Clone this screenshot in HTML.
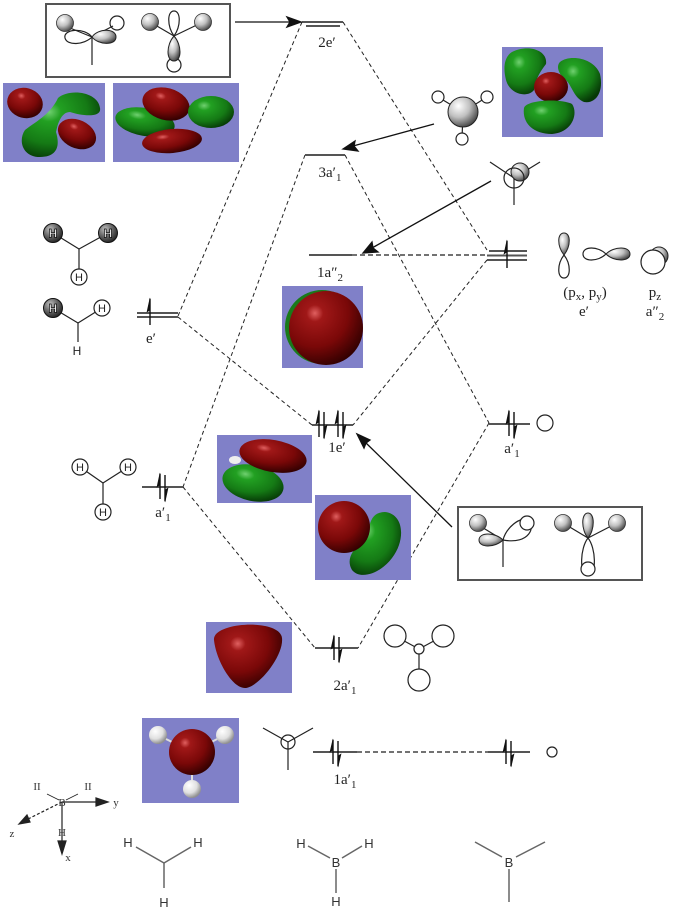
<!DOCTYPE html>
<html><head><meta charset="utf-8"><style>
html,body{margin:0;padding:0;background:#fff;}
svg{display:block;}
.lv{stroke:#555;stroke-width:2;fill:none;}
.ds{stroke:#222;stroke-width:1;stroke-dasharray:4,3;fill:none;}
.ln{stroke:#222;stroke-width:1.2;fill:none;}
.op{stroke:#222;stroke-width:1.2;fill:#fff;}
.lb{font-family:"Liberation Serif",serif;font-size:15px;fill:#222;text-anchor:middle;}
.hs{font-family:"Liberation Sans",sans-serif;font-size:13px;fill:#333;text-anchor:middle;}
.hi{font-family:"Liberation Sans",sans-serif;font-size:11px;fill:#222;text-anchor:middle;}
.hw{font-family:"Liberation Sans",sans-serif;font-size:12px;font-weight:bold;fill:#fff;stroke:#000;stroke-width:0.7;text-anchor:middle;}
.gl{stroke:#666;stroke-width:1.5;fill:none;}
</style></head><body>
<svg width="676" height="923" viewBox="0 0 676 923" xmlns="http://www.w3.org/2000/svg">
<defs>
<radialGradient id="rg" cx="35%" cy="30%" r="75%"><stop offset="0" stop-color="#e06060"/><stop offset="0.15" stop-color="#a01818"/><stop offset="0.6" stop-color="#7a0808"/><stop offset="1" stop-color="#300000"/></radialGradient>
<radialGradient id="gg" cx="35%" cy="30%" r="75%"><stop offset="0" stop-color="#70d070"/><stop offset="0.2" stop-color="#22a022"/><stop offset="0.65" stop-color="#157a15"/><stop offset="1" stop-color="#063806"/></radialGradient>
<radialGradient id="sg" cx="35%" cy="30%" r="75%"><stop offset="0" stop-color="#ffffff"/><stop offset="0.5" stop-color="#c0c0c0"/><stop offset="1" stop-color="#404040"/></radialGradient>
<radialGradient id="dg" cx="35%" cy="30%" r="75%"><stop offset="0" stop-color="#c0c0c0"/><stop offset="0.45" stop-color="#707070"/><stop offset="1" stop-color="#202020"/></radialGradient>
<radialGradient id="wg" cx="35%" cy="30%" r="70%"><stop offset="0" stop-color="#ffffff"/><stop offset="0.6" stop-color="#e0e0e0"/><stop offset="1" stop-color="#909090"/></radialGradient>
</defs>

<!-- ===== dashed correlation lines ===== -->
<line class="ds" x1="302" y1="22" x2="178" y2="316"/>
<line class="ds" x1="343" y1="22" x2="487" y2="250"/>
<line class="ds" x1="305" y1="155" x2="183" y2="487"/>
<line class="ds" x1="345" y1="155" x2="489" y2="423"/>
<line class="ds" x1="178" y1="317" x2="312" y2="425"/>
<line class="ds" x1="487" y1="260" x2="353" y2="425"/>
<line class="ds" x1="183" y1="487" x2="315" y2="648"/>
<line class="ds" x1="489" y1="423" x2="358" y2="648"/>
<line x1="352" y1="255" x2="487" y2="255" stroke="#444" stroke-width="1.5" stroke-dasharray="5,3"/>
<line x1="357" y1="752" x2="488" y2="752" stroke="#444" stroke-width="1.5" stroke-dasharray="5,3"/>

<!-- ===== energy levels ===== -->
<line class="lv" x1="302" y1="22" x2="343" y2="22"/>
<line class="lv" x1="306" y1="26" x2="340" y2="26"/>
<line class="lv" x1="305" y1="155" x2="345" y2="155"/>
<line class="lv" x1="309" y1="255" x2="352" y2="255"/>
<line class="lv" x1="489" y1="251" x2="527" y2="251"/>
<line class="lv" x1="487" y1="255.5" x2="527" y2="255.5"/>
<line class="lv" x1="487" y1="260" x2="527" y2="260"/>
<line class="lv" x1="137" y1="313" x2="178" y2="313" stroke-width="1.6"/>
<line class="lv" x1="137" y1="317" x2="178" y2="317" stroke-width="1.6"/>
<line class="lv" x1="312" y1="425" x2="353" y2="425"/>
<line class="lv" x1="489" y1="424" x2="530" y2="424"/>
<line class="lv" x1="142" y1="487" x2="183" y2="487"/>
<line class="lv" x1="315" y1="648" x2="358" y2="648"/>
<line class="lv" x1="313" y1="752" x2="357" y2="752"/>
<line class="lv" x1="488" y1="752" x2="530" y2="752"/>

<!-- ===== electrons ===== -->
<g fill="#111" stroke="#111" stroke-width="1.4">
<line x1="150" y1="325" x2="150" y2="299"/><path d="M150,298 L147,312 L150,310Z" stroke-width="0.6"/>
<line x1="507" y1="268" x2="507" y2="241"/><path d="M507,240 L504,254 L507,252Z" stroke-width="0.6"/>

<line x1="319" y1="437" x2="319" y2="411"/><path d="M319,410 L316,424 L319,422Z" stroke-width="0.6"/>
<line x1="324" y1="412" x2="324" y2="438"/><path d="M324,439 L327,425 L324,427Z" stroke-width="0.6"/>
<line x1="338" y1="437" x2="338" y2="411"/><path d="M338,410 L335,424 L338,422Z" stroke-width="0.6"/>
<line x1="343" y1="412" x2="343" y2="438"/><path d="M343,439 L346,425 L343,427Z" stroke-width="0.6"/>

<line x1="160" y1="499" x2="160" y2="474"/><path d="M160,473 L157,487 L160,485Z" stroke-width="0.6"/>
<line x1="165" y1="475" x2="165" y2="501"/><path d="M165,502 L168,488 L165,490Z" stroke-width="0.6"/>

<line x1="509" y1="436" x2="509" y2="411"/><path d="M509,410 L506,424 L509,422Z" stroke-width="0.6"/>
<line x1="514" y1="412" x2="514" y2="438"/><path d="M514,439 L517,425 L514,427Z" stroke-width="0.6"/>

<line x1="334" y1="660" x2="334" y2="636"/><path d="M334,635 L331,649 L334,647Z" stroke-width="0.6"/>
<line x1="339" y1="637" x2="339" y2="662"/><path d="M339,663 L342,649 L339,651Z" stroke-width="0.6"/>

<line x1="333" y1="764" x2="333" y2="740"/><path d="M333,739 L330,752 L333,750Z" stroke-width="0.6"/>
<line x1="338" y1="741" x2="338" y2="766"/><path d="M338,767 L341,754 L338,756Z" stroke-width="0.6"/>

<line x1="506" y1="764" x2="506" y2="740"/><path d="M506,739 L503,752 L506,750Z" stroke-width="0.6"/>
<line x1="511" y1="741" x2="511" y2="766"/><path d="M511,767 L514,754 L511,756Z" stroke-width="0.6"/>
</g>

<!-- ===== labels ===== -->
<text class="lb" x="327" y="47">2e′</text>
<text class="lb" x="330" y="177">3a′<tspan font-size="11" dy="4">1</tspan></text>
<text class="lb" x="330" y="277">1a″<tspan font-size="11" dy="4">2</tspan></text>
<text class="lb" x="337" y="452">1e′</text>
<text class="lb" x="512" y="453">a′<tspan font-size="11" dy="4">1</tspan></text>
<text class="lb" x="151" y="343">e′</text>
<text class="lb" x="163" y="517">a′<tspan font-size="11" dy="4">1</tspan></text>
<text class="lb" x="345" y="690">2a′<tspan font-size="11" dy="4">1</tspan></text>
<text class="lb" x="345" y="784">1a′<tspan font-size="11" dy="4">1</tspan></text>
<text class="lb" x="585" y="297">(p<tspan font-size="11" dy="3">x</tspan><tspan dy="-3">, p</tspan><tspan font-size="11" dy="3">y</tspan><tspan dy="-3">)</tspan></text>
<text class="lb" x="584" y="316">e′</text>
<text class="lb" x="655" y="297">p<tspan font-size="11" dy="3">z</tspan></text>
<text class="lb" x="655" y="316">a″<tspan font-size="11" dy="4">2</tspan></text>

<!-- ===== solid arrows ===== -->
<g stroke="#111" stroke-width="1.3" fill="#111">
<line x1="235" y1="22" x2="290" y2="22"/><path d="M301,22 L287,17 L290,22 L287,27Z"/>
<line x1="434" y1="124" x2="353" y2="146"/><path d="M343,149 L355,141 L354,146 L358,151Z"/>
<line x1="491" y1="181" x2="372" y2="248"/><path d="M363,253 L372,242 L373,248 L378,252Z"/>
<line x1="452" y1="527" x2="365" y2="442"/><path d="M357,434 L370,440 L366,443 L364,448Z"/>
</g>

<!-- ===== boxes ===== -->
<rect x="46" y="4" width="184" height="73" fill="none" stroke="#555" stroke-width="2"/>
<rect x="458" y="507" width="184" height="73" fill="none" stroke="#555" stroke-width="2"/>

<!-- box1 drawing 1 -->
<line class="ln" x1="92" y1="37" x2="92" y2="65"/>
<line class="ln" x1="92" y1="37" x2="70" y2="28"/>
<path class="ln" d="M92,37 C84,27 63,29 65,38 C67,46 84,45 92,37Z"/>
<circle class="op" cx="117" cy="23" r="7"/>
<line class="ln" x1="92" y1="37" x2="113" y2="26"/>
<path d="M92,37 C98,28 116,28 116,37 C116,46 98,45 92,37Z" fill="url(#sg)" stroke="#222" stroke-width="1"/>
<circle cx="65" cy="23" r="8.5" fill="url(#sg)" stroke="#333" stroke-width="0.8"/>
<!-- box1 drawing 2 -->
<line class="ln" x1="174" y1="36" x2="150" y2="22"/>
<line class="ln" x1="174" y1="36" x2="203" y2="22"/>
<path class="ln" d="M174,36 C167,26 167,11 174,11 C181,11 181,26 174,36Z"/>
<circle class="op" cx="174" cy="65" r="7"/>
<path d="M174,36 C166,45 166,61 174,61 C182,61 182,45 174,36Z" fill="url(#sg)" stroke="#222" stroke-width="1"/>
<circle cx="150" cy="22" r="8.5" fill="url(#sg)" stroke="#333" stroke-width="0.8"/>
<circle cx="203" cy="22" r="8.5" fill="url(#sg)" stroke="#333" stroke-width="0.8"/>

<!-- box2 drawing 1 -->
<line class="ln" x1="503" y1="540" x2="503" y2="567"/>
<line class="ln" x1="503" y1="540" x2="480" y2="526"/>
<path class="ln" d="M503,540 C506,528 520,516 528,520 C536,526 530,545 503,540Z"/>
<circle class="op" cx="527" cy="523" r="7" fill="none"/>
<path d="M503,540 C495,532 479,532 479,540 C479,548 495,548 503,540Z" fill="url(#sg)" stroke="#222" stroke-width="1"/>
<circle cx="478" cy="523" r="8.5" fill="url(#sg)" stroke="#333" stroke-width="0.8"/>
<!-- box2 drawing 2 -->
<line class="ln" x1="588" y1="538" x2="563" y2="523"/>
<line class="ln" x1="588" y1="538" x2="617" y2="523"/>
<path class="ln" d="M588,538 C580,548 579,575 588,575 C597,575 596,548 588,538Z"/>
<circle class="op" cx="588" cy="569" r="7" fill="none"/>
<path d="M588,538 C581,530 581,513 588,513 C595,513 595,530 588,538Z" fill="url(#sg)" stroke="#222" stroke-width="1"/>
<circle cx="563" cy="523" r="8.5" fill="url(#sg)" stroke="#333" stroke-width="0.8"/>
<circle cx="617" cy="523" r="8.5" fill="url(#sg)" stroke="#333" stroke-width="0.8"/>

<!-- BH3 sphere drawing near 3a'1 -->
<line class="ln" x1="463" y1="112" x2="438" y2="97"/>
<line class="ln" x1="463" y1="112" x2="487" y2="97"/>
<line class="ln" x1="463" y1="112" x2="462" y2="139"/>
<circle class="op" cx="438" cy="97" r="6" fill="none"/>
<circle class="op" cx="487" cy="97" r="6" fill="none"/>
<circle class="op" cx="462" cy="139" r="6" fill="none"/>
<circle cx="463" cy="112" r="15" fill="url(#sg)" stroke="#222" stroke-width="1"/>

<!-- pz drawing -->
<line class="ln" x1="514" y1="178" x2="490" y2="162"/>
<line class="ln" x1="514" y1="178" x2="540" y2="162"/>
<line class="ln" x1="514" y1="178" x2="514" y2="205"/>
<circle cx="520" cy="172" r="9" fill="url(#sg)" stroke="#222" stroke-width="1"/>
<circle cx="514" cy="178" r="10" fill="none" stroke="#222" stroke-width="1.2"/>

<!-- B p orbitals -->
<path d="M564,255 C557,246 557,233 564,233 C571,233 571,246 564,255Z" fill="url(#sg)" stroke="#222" stroke-width="1"/>
<path class="ln" d="M564,255 C557,264 557,278 564,278 C571,278 571,264 564,255Z"/>
<path class="ln" d="M606,254 C598,246 583,246 583,254 C583,262 598,262 606,254Z"/>
<path d="M606,254 C614,246 630,246 630,254 C630,262 614,262 606,254Z" fill="url(#sg)" stroke="#222" stroke-width="1"/>
<circle cx="659" cy="256" r="9" fill="url(#sg)" stroke="#222" stroke-width="1"/>
<circle cx="653" cy="262" r="12" fill="#fff" stroke="#222" stroke-width="1.2"/>

<!-- small circles -->
<circle class="op" cx="545" cy="423" r="8" fill="none"/>
<circle class="op" cx="552" cy="752" r="5" fill="none"/>

<!-- 2a'1 drawing -->
<line class="ln" x1="419" y1="649" x2="395" y2="636"/>
<line class="ln" x1="419" y1="649" x2="443" y2="636"/>
<line class="ln" x1="419" y1="649" x2="419" y2="680"/>
<circle class="op" cx="395" cy="636" r="11" fill="none"/>
<circle class="op" cx="443" cy="636" r="11" fill="none"/>
<circle class="op" cx="419" cy="680" r="11" fill="none"/>
<circle class="op" cx="419" cy="649" r="5"/>

<!-- 1a'1 drawing -->
<line class="ln" x1="288" y1="742" x2="263" y2="728"/>
<line class="ln" x1="288" y1="742" x2="313" y2="728"/>
<line class="ln" x1="288" y1="742" x2="288" y2="770"/>
<circle cx="288" cy="742" r="7" fill="none" stroke="#222" stroke-width="1.2"/>

<!-- left H3 drawings -->
<g>
<line class="ln" x1="79" y1="249" x2="53" y2="233"/>
<line class="ln" x1="79" y1="249" x2="108" y2="233"/>
<line class="ln" x1="79" y1="249" x2="79" y2="277"/>
<circle cx="53" cy="233" r="9.5" fill="url(#dg)" stroke="#111" stroke-width="1"/>
<circle cx="108" cy="233" r="9.5" fill="url(#dg)" stroke="#111" stroke-width="1"/>
<circle class="op" cx="79" cy="277" r="8"/>
<text class="hw" x="53" y="237.5">H</text>
<text class="hw" x="108" y="237.5">H</text>
<text class="hi" x="79" y="281">H</text>
</g>
<g>
<line class="ln" x1="78" y1="323" x2="53" y2="308"/>
<line class="ln" x1="78" y1="323" x2="102" y2="308"/>
<line class="ln" x1="78" y1="323" x2="78" y2="342"/>
<circle cx="53" cy="308" r="9.5" fill="url(#dg)" stroke="#111" stroke-width="1"/>
<circle class="op" cx="102" cy="308" r="8"/>
<text class="hw" x="53" y="312.5">H</text>
<text class="hi" x="102" y="312">H</text>
<text class="hi" x="77" y="355" style="font-size:12px">H</text>
</g>
<g>
<line class="ln" x1="103" y1="483" x2="80" y2="467"/>
<line class="ln" x1="103" y1="483" x2="128" y2="467"/>
<line class="ln" x1="103" y1="483" x2="103" y2="512"/>
<circle class="op" cx="80" cy="467" r="8"/>
<circle class="op" cx="128" cy="467" r="8"/>
<circle class="op" cx="103" cy="512" r="8"/>
<text class="hi" x="80" y="471">H</text>
<text class="hi" x="128" y="471">H</text>
<text class="hi" x="103" y="516">H</text>
</g>

<!-- ===== orbital pictures ===== -->
<!-- img1 -->
<rect x="3" y="83" width="102" height="79" fill="#8080c8"/>
<ellipse cx="25" cy="103" rx="18" ry="15" transform="rotate(15 25 103)" fill="url(#rg)"/>
<path d="M58,98 C70,88 98,92 100,108 C102,118 82,116 70,112 C62,112 58,122 56,132 C60,145 58,157 40,157 C22,157 18,140 25,130 C35,122 50,115 58,98Z" fill="url(#gg)"/>
<ellipse cx="77" cy="134" rx="20" ry="14" transform="rotate(25 77 134)" fill="url(#rg)"/>
<!-- img2 -->
<rect x="113" y="83" width="126" height="79" fill="#8080c8"/>
<ellipse cx="145" cy="122" rx="30" ry="14" transform="rotate(10 145 122)" fill="url(#gg)"/>
<ellipse cx="166" cy="104" rx="24" ry="16" transform="rotate(15 166 104)" fill="url(#rg)"/>
<ellipse cx="211" cy="112" rx="23" ry="16" fill="url(#gg)"/>
<ellipse cx="172" cy="141" rx="30" ry="12" transform="rotate(-5 172 141)" fill="url(#rg)"/>
<!-- img3 -->
<rect x="502" y="47" width="101" height="90" fill="#8080c8"/>
<path d="M512,52 C528,44 548,50 546,64 C540,72 536,78 534,90 C528,98 510,95 506,80 C503,68 504,57 512,52Z" fill="url(#gg)"/>
<path d="M560,62 C570,54 594,58 600,74 C604,92 596,104 584,102 C574,98 572,86 566,80 C558,74 556,66 560,62Z" fill="url(#gg)"/>
<ellipse cx="551" cy="87" rx="17" ry="15" fill="url(#rg)"/>
<path d="M524,108 C526,100 560,98 572,104 C578,112 574,132 552,134 C532,134 522,122 524,108Z" fill="url(#gg)"/>
<!-- img4 sphere -->
<rect x="282" y="286" width="81" height="82" fill="#8080c8"/>
<circle cx="322" cy="327" r="37" fill="#1a7a1a"/>
<circle cx="326" cy="328" r="37" fill="url(#rg)"/>
<!-- img5 -->
<rect x="217" y="435" width="95" height="68" fill="#8080c8"/>
<ellipse cx="253" cy="483" rx="31" ry="18" transform="rotate(12 253 483)" fill="url(#gg)"/>
<ellipse cx="273" cy="456" rx="34" ry="16" transform="rotate(10 273 456)" fill="url(#rg)"/>
<ellipse cx="235" cy="460" rx="6" ry="4" fill="#eee"/>
<!-- img6 -->
<rect x="315" y="495" width="96" height="85" fill="#8080c8"/>
<path d="M385,512 C404,514 406,540 392,558 C380,574 360,580 352,570 C346,560 352,550 362,542 C372,532 366,512 385,512Z" fill="url(#gg)"/>
<circle cx="344" cy="527" r="26" fill="url(#rg)"/>
<!-- img7 -->
<rect x="206" y="622" width="86" height="71" fill="#8080c8"/>
<path d="M214,640 C212,622 280,618 282,638 C284,656 258,688 245,688 C232,688 216,660 214,640Z" fill="url(#rg)"/>
<!-- img8 -->
<rect x="142" y="718" width="97" height="85" fill="#8080c8"/>
<line x1="192" y1="752" x2="158" y2="735" stroke="#ddd" stroke-width="2"/>
<line x1="192" y1="752" x2="225" y2="735" stroke="#ddd" stroke-width="2"/>
<line x1="192" y1="752" x2="192" y2="788" stroke="#ddd" stroke-width="2"/>
<circle cx="192" cy="752" r="23" fill="url(#rg)"/>
<circle cx="158" cy="735" r="9" fill="url(#wg)"/>
<circle cx="225" cy="735" r="9" fill="url(#wg)"/>
<circle cx="192" cy="789" r="9" fill="url(#wg)"/>

<!-- ===== axis ===== -->
<g stroke="#222" stroke-width="1.2" fill="#222">
<line x1="62" y1="802" x2="98" y2="802"/><path d="M108,802 L96,798 L96,806Z"/>
<line x1="62" y1="802" x2="62" y2="843"/><path d="M62,854 L58,841 L66,841Z"/>
<line x1="62" y1="802" x2="26" y2="820" stroke-dasharray="3,2"/><path d="M19,824 L27,815 L30,822Z"/>
<line x1="47" y1="794" x2="59" y2="800" stroke-width="0.8"/>
<line x1="78" y1="794" x2="66" y2="800" stroke-width="0.8"/>
</g>
<g font-family="Liberation Serif,serif" font-size="11" fill="#333" text-anchor="middle">
<text x="37" y="790">II</text><text x="88" y="790">II</text>
<text x="62" y="806">B</text>
<text x="62" y="836">H</text>
<text x="116" y="806">y</text>
<text x="68" y="861">x</text>
<text x="12" y="837">z</text>
</g>

<!-- ===== bottom structures ===== -->
<line class="gl" x1="136" y1="847" x2="164" y2="863"/>
<line class="gl" x1="191" y1="847" x2="164" y2="863"/>
<line class="gl" x1="164" y1="863" x2="164" y2="888"/>
<text class="hs" x="128" y="847">H</text>
<text class="hs" x="198" y="847">H</text>
<text class="hs" x="164" y="907">H</text>

<line class="gl" x1="308" y1="846" x2="330" y2="858"/>
<line class="gl" x1="362" y1="846" x2="342" y2="858"/>
<line class="gl" x1="336" y1="869" x2="336" y2="893"/>
<text class="hs" x="301" y="848">H</text>
<text class="hs" x="369" y="848">H</text>
<text class="hs" x="336" y="867">B</text>
<text class="hs" x="336" y="906">H</text>

<line class="gl" x1="475" y1="842" x2="502" y2="857"/>
<line class="gl" x1="545" y1="842" x2="516" y2="857"/>
<line class="gl" x1="509" y1="869" x2="509" y2="902"/>
<text class="hs" x="509" y="867">B</text>
</svg>
</body></html>
